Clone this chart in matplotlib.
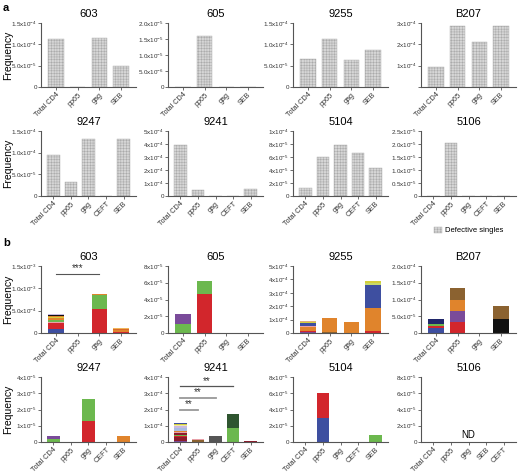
import numpy as np
import matplotlib
matplotlib.use("Agg")
import matplotlib.pyplot as plt
from matplotlib.patches import Patch

plt.rcParams['font.family'] = ['Liberation Sans', 'DejaVu Sans']
plt.rcParams['hatch.linewidth'] = 0.35
plt.rcParams['mathtext.default'] = 'regular'

cats4 = ['Total CD4', 'pp65', 'gag', 'SEB']
cats5 = ['Total CD4', 'pp65', 'gag', 'CEFT', 'SEB']
cats5_5106b = ['Total CD4', 'pp65', 'gag', 'SEB', 'CEFT']

# ---- panel a: defective singles frequency
a_603 = [1.12e-4, 0, 1.16e-4, 0.50e-4]
a_605 = [0, 1.58e-5, 0, 0]
a_9255 = [0.65e-4, 1.12e-4, 0.63e-4, 0.87e-4]
a_B207 = [0.92e-4, 2.86e-4, 2.10e-4, 2.88e-4]
a_9247 = [0.94e-4, 0.32e-4, 1.31e-4, 0, 1.31e-4]
a_9241 = [3.95e-4, 0.45e-4, 0, 0, 0.52e-4]
a_5104 = [1.28e-5, 6.0e-5, 7.9e-5, 6.55e-5, 4.35e-5]
a_5106 = [0, 2.05e-5, 0, 0, 0]

# ---- panel b: clone frequency, stacked segments (bottom to top)
b_603 = [[1.0e-4, 1.35e-4, 0.2e-4, 0.45e-4, 0.3e-4, 0.2e-4, 0.2e-4, 0.1e-4, 0.25e-4, 0.2e-4],
         [0.1e-4],
         [5.4e-4, 3.05e-4, 0.35e-4],
         [0.3e-4, 0.3e-4, 0.2e-4, 0.2e-4, 0.15e-4]]
b_603_c = [['blue', 'red', 'pink', 'green', 'orange', 'yellow', 'orange', 'maroon', 'black', 'lav'],
           ['grey'],
           ['red', 'green', 'orange'],
           ['red', 'orange', 'dorange', 'tan', 'lorange']]
b_605 = [[1.1e-5, 1.2e-5], [4.65e-5, 1.5e-5], [0], [0]]
b_605_c = [['green', 'purple'], ['red', 'green'], ['grey'], ['grey']]
b_9255 = [[0.05e-4, 0.1e-4, 0.3e-4, 0.05e-4, 0.25e-4, 0.05e-4, 0.08e-4],
          [0.05e-4, 1.04e-4],
          [0.03e-4, 0.77e-4],
          [0.12e-4, 0.05e-4, 1.73e-4, 1.7e-4, 0.1e-4, 0.15e-4]]
b_9255_c = [['purple', 'red', 'orange', 'pink', 'blue', 'yellow', 'tan'],
            ['brown', 'orange'],
            ['brown', 'orange'],
            ['red', 'pink', 'orange', 'blue', 'lgreen', 'yellow']]
b_B207 = [[1.5e-5, 0.6e-5, 0.5e-5, 0.2e-5, 1.3e-5],
          [3.3e-5, 3.4e-5, 3.3e-5, 3.3e-5],
          [0],
          [4.1e-5, 4.1e-5]]
b_B207_c = [['blue', 'red', 'green', 'yellow', 'navy'],
            ['red', 'purple', 'orange', 'brown'],
            ['grey'],
            ['black', 'brown']]
b_9247 = [[0.17e-5, 0.2e-5], [0], [1.32e-5, 1.32e-5], [0], [0.34e-5]]
b_9247_c = [['green', 'purple'], ['grey'], ['red', 'green'], ['grey'], ['orange']]
b_9241 = [[0.06e-4, 0.22e-4, 0.12e-4, 0.06e-4, 0.08e-4, 0.1e-4, 0.06e-4, 0.18e-4, 0.12e-4, 0.06e-4, 0.05e-4, 0.05e-4],
          [0.1e-4, 0.05e-4, 0.05e-4],
          [0.35e-4],
          [0.86e-4, 0.88e-4],
          [0.08e-4]]
b_9241_c = [['purple', 'maroon', 'red', 'green', 'maroon', 'pink', 'orange', 'lblue', 'lav', 'lyellow', 'yellow', 'blue'],
            ['brown', 'tan', 'pink'],
            ['grey'],
            ['green', 'dgreen'],
            ['maroon']]
b_5104 = [[0], [3.0e-5, 3.0e-5], [0], [0], [0.9e-5]]
b_5104_c = [['grey'], ['blue', 'red'], ['grey'], ['grey'], ['green']]
b_5106 = [[0], [0], [0], [0], [0]]
b_5106_c = [['grey']] * 5

palette = {'blue': '#3e4fa0', 'red': '#d2262c', 'green': '#6cb84e', 'orange': '#e0842c',
           'dorange': '#d86a28', 'lorange': '#f0b45a', 'purple': '#7a4b9a', 'brown': '#8b6230',
           'black': '#111111', 'navy': '#20276a', 'yellow': '#d4cf3a', 'lyellow': '#efe9a6',
           'dgreen': '#2f5530', 'grey': '#555555', 'maroon': '#8c1c2c', 'lblue': '#a9bde2',
           'tan': '#e3b07a', 'pink': '#e8a0a8', 'lav': '#c9b9e0', 'lgreen': '#c7d96a'}


def sci(v, dec, exp=None):
    if v == 0:
        return '0'
    e = int(np.floor(np.log10(v) + 1e-9)) if exp is None else exp
    m = v / 10 ** e
    return f'{m:.{dec}f}x10$^{{{e}}}$'


W, H = 520, 472
fig = plt.figure(figsize=(W / 100, H / 100), dpi=100)

col_left = [41, 168, 293, 421]
col_w = 95
rows = {'a1': (23, 87), 'a2': (131, 196), 'b1': (266, 333), 'b2': (377, 442)}


def make_ax(row, col):
    top, bot = rows[row]
    ax = fig.add_axes([col_left[col] / W, 1 - bot / H, col_w / W, (bot - top) / H])
    for s in ['top', 'right']:
        ax.spines[s].set_visible(False)
    for s in ['left', 'bottom']:
        ax.spines[s].set_color('#555555')
        ax.spines[s].set_linewidth(0.8)
    ax.tick_params(colors='#555555', length=2, width=0.6, labelsize=4.5, pad=1.0)
    return ax


def freq_label(row):
    top, bot = rows[row]
    fig.text(8 / W, 1 - (top + bot) / 2 / H, 'Frequency', rotation=90,
             ha='center', va='center', fontsize=7.5)


def finish(ax, title, cats, ymax, step, dec, exp=None, zero=True):
    n = len(cats)
    ax.set_xlim(-0.7, n - 0.3)
    ax.set_ylim(0, ymax)
    ticks = np.arange(0, ymax + step / 2, step)
    labels = [sci(t, dec, exp) for t in ticks]
    if not zero:
        labels[0] = ''
    ax.set_yticks(ticks)
    ax.set_yticklabels(labels, color='#333333')
    ax.set_xticks(range(n))
    ax.set_xticklabels(cats, rotation=45, ha='right', rotation_mode='anchor',
                       fontsize=5.2, color='#333333')
    ax.set_title(title, fontsize=8, pad=4)


def plain_panel(row, col, title, cats, vals, ymax, step, dec, exp=None, zero=True):
    ax = make_ax(row, col)
    x = np.arange(len(cats))
    ax.bar(x, vals, width=0.72, facecolor='#d6d6d6', edgecolor='#a9a9a9',
           linewidth=0.3, hatch='++++++')
    finish(ax, title, cats, ymax, step, dec, exp, zero)
    return ax


def stack_panel(row, col, title, cats, stacks, colors, ymax, step, dec, exp=None):
    ax = make_ax(row, col)
    for i, (segs, cols) in enumerate(zip(stacks, colors)):
        bottom = 0
        for v, c in zip(segs, cols):
            if v > 0:
                ax.bar(i, v, bottom=bottom, width=0.72, color=palette[c],
                       edgecolor='none')
            bottom += v
    finish(ax, title, cats, ymax, step, dec, exp)
    return ax


# panel a
plain_panel('a1', 0, '603', cats4, a_603, 1.5e-4, 0.5e-4, 1)
plain_panel('a1', 1, '605', cats4, a_605, 2.0e-5, 0.5e-5, 1)
plain_panel('a1', 2, '9255', cats4, a_9255, 1.5e-4, 0.5e-4, 1)
plain_panel('a1', 3, 'B207', cats4, a_B207, 3e-4, 1e-4, 0, zero=False)
plain_panel('a2', 0, '9247', cats5, a_9247, 1.5e-4, 0.5e-4, 1)
plain_panel('a2', 1, '9241', cats5, a_9241, 5e-4, 1e-4, 0)
plain_panel('a2', 2, '5104', cats5, a_5104, 1e-4, 2e-5, 0)
plain_panel('a2', 3, '5106', cats5, a_5106, 2.5e-5, 0.5e-5, 1, exp=-5)
fig.legend(handles=[Patch(facecolor='#d6d6d6', edgecolor='#a9a9a9', linewidth=0.3,
                          hatch='++++++', label='Defective singles')],
           loc='upper right', bbox_to_anchor=(510 / W, 1 - 220 / H), frameon=False,
           fontsize=5.5, handlelength=1.0, handleheight=0.8, handletextpad=0.4)

# panel b
ax = stack_panel('b1', 0, '603', cats4, b_603, b_603_c, 1.5e-3, 0.5e-3, 1)
ax.plot([0, 2], [1.32e-3, 1.32e-3], color='#555555', lw=0.8)
ax.text(1, 1.34e-3, '***', ha='center', va='bottom', fontsize=7, color='#333333')
stack_panel('b1', 1, '605', cats4, b_605, b_605_c, 8e-5, 2e-5, 0)
stack_panel('b1', 2, '9255', cats4, b_9255, b_9255_c, 5e-4, 1e-4, 0)
stack_panel('b1', 3, 'B207', cats4, b_B207, b_B207_c, 2e-4, 0.5e-4, 1)
stack_panel('b2', 0, '9247', cats5, b_9247, b_9247_c, 4e-5, 1e-5, 0)
ax = stack_panel('b2', 1, '9241', cats5, b_9241, b_9241_c, 4e-4, 1e-4, 0)
for x2, y, c in [(3, 3.42e-4, '#555555'), (2, 2.7e-4, '#999999'), (1, 2.0e-4, '#999999')]:
    ax.plot([0, x2], [y, y], color=c, lw=0.9 if c == '#555555' else 1.3)
    ax.text(x2 / 2, y + 0.05e-4, '**', ha='center', va='bottom', fontsize=7, color='#333333')
stack_panel('b2', 2, '5104', cats5, b_5104, b_5104_c, 8e-5, 2e-5, 0)
ax = stack_panel('b2', 3, '5106', cats5_5106b, b_5106, b_5106_c, 8e-5, 2e-5, 0)
ax.text(2, 0.9e-5, 'ND', ha='center', va='center', fontsize=7)

for r in rows:
    freq_label(r)

fig.text(3 / W, 1 - 3 / H, 'a', fontsize=8, fontweight='bold', va='top')
fig.text(3 / W, 1 - 238 / H, 'b', fontsize=8, fontweight='bold', va='top')

fig.savefig('out.png', dpi=100)
